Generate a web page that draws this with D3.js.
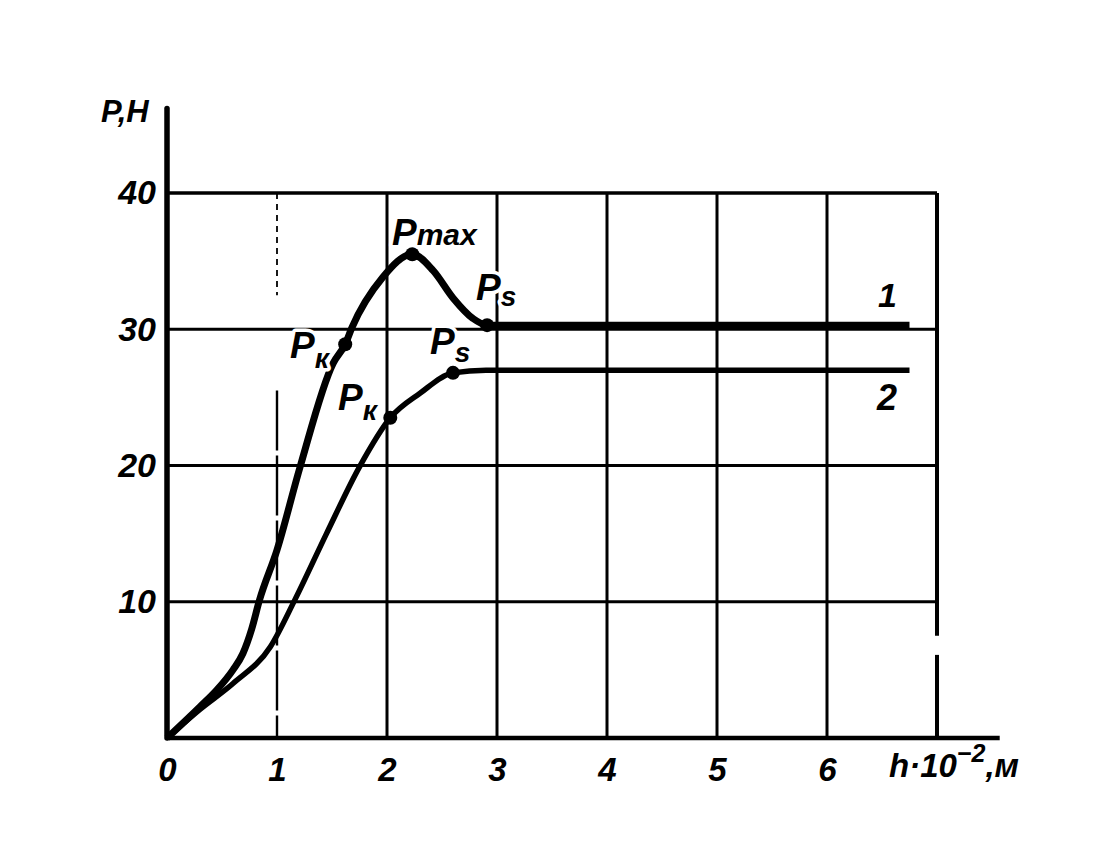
<!DOCTYPE html>
<html>
<head>
<meta charset="utf-8">
<script src="https://cdn.jsdelivr.net/npm/d3@7/dist/d3.min.js"></script>
<style>
  html, body { margin: 0; padding: 0; background: #fff; }
  svg { display: block; }
  text { font-family: "Liberation Sans", "DejaVu Sans", sans-serif; font-style: italic; font-weight: bold; fill: #000; }
</style>
</head>
<body>
<svg id="chart" width="1104" height="855"></svg>
<script>
// ---- data ----
const xTicks = [0, 1, 2, 3, 4, 5, 6];
const yTicks = [10, 20, 30, 40];
const gridX = [1, 2, 3, 4, 5, 6, 7];
const gridY = [10, 20, 30, 40];

// curve 1
const curve1H = [0, 0.3, 0.45, 0.6, 0.69, 0.77, 0.84, 1.0, 1.21, 1.51, 1.62, 1.68, 1.96, 2.23, 2.42, 2.6, 2.78, 2.91, 3.2, 6.75];
const curve1P = [0, 2.3, 3.5, 5.0, 6.2, 8.0, 10.1, 13.8, 19.9, 27.5, 28.9, 30.1, 33.8, 35.5, 34.3, 32.3, 30.8, 30.3, 30.3, 30.3];
// curve 2
const curve2H = [0, 0.3, 0.6, 0.94, 1.16, 1.45, 1.75, 2.03, 2.3, 2.6, 2.9, 6.75];
const curve2P = [0, 2.1, 4.0, 6.7, 10.1, 15.0, 19.9, 23.5, 25.3, 26.8, 27.0, 27.0];

// marked points
const markH = [1.62, 2.23, 2.91, 2.03, 2.6];
const markP = [28.9, 35.5, 30.3, 23.5, 26.8];

// ---- scales ----
const svg = d3.select("#chart");
const x = d3.scaleLinear().domain([0, 7]).range([167, 937]);
const y = d3.scaleLinear().domain([0, 40]).range([738, 193]);
const xAxisEnd = 7.57, yAxisEnd = 46.2;

const g = svg.append("g");

// grid: horizontal
gridY.forEach(v => {
  g.append("line")
    .attr("x1", x(0)).attr("x2", x(7))
    .attr("y1", y(v)).attr("y2", y(v))
    .attr("stroke", "#000").attr("stroke-width", v === 40 ? 3.5 : 3);
});
// grid: vertical
gridX.forEach(v => {
  if (v === 1) {
    g.append("line")
      .attr("x1", x(v)).attr("x2", x(v))
      .attr("y1", y(40)).attr("y2", y(32.5))
      .attr("stroke", "#000").attr("stroke-width", 1.8)
      .attr("stroke-dasharray", "6,5");
    g.append("line")
      .attr("x1", x(v)).attr("x2", x(v))
      .attr("y1", y(25.5)).attr("y2", y(0))
      .attr("stroke", "#000").attr("stroke-width", 2.4)
      .attr("stroke-dasharray", "60,5");
  } else if (v === 7) {
    g.append("line")
      .attr("x1", x(v)).attr("x2", x(v))
      .attr("y1", y(40)).attr("y2", y(7.5))
      .attr("stroke", "#000").attr("stroke-width", 4);
    g.append("line")
      .attr("x1", x(v)).attr("x2", x(v))
      .attr("y1", y(6.1)).attr("y2", y(0))
      .attr("stroke", "#000").attr("stroke-width", 4);
  } else {
    g.append("line")
      .attr("x1", x(v)).attr("x2", x(v))
      .attr("y1", y(40)).attr("y2", y(0))
      .attr("stroke", "#000").attr("stroke-width", 3);
  }
});

// axes
g.append("line")
  .attr("x1", x(0)).attr("x2", x(xAxisEnd))
  .attr("y1", y(0)).attr("y2", y(0))
  .attr("stroke", "#000").attr("stroke-width", 4.5);
g.append("line")
  .attr("x1", x(0)).attr("x2", x(0))
  .attr("y1", y(0)).attr("y2", y(yAxisEnd))
  .attr("stroke", "#000").attr("stroke-width", 5.5)
  .attr("stroke-linecap", "round");

// tick labels via d3 axes
const xAxis = svg.append("g")
  .attr("transform", `translate(0,${y(0)})`)
  .call(d3.axisBottom(x).tickValues(xTicks).tickSize(0).tickPadding(20).tickFormat(d3.format("d")));
xAxis.select(".domain").remove();
xAxis.selectAll("text")
  .attr("font-family", "Liberation Sans, DejaVu Sans, sans-serif")
  .attr("font-style", "italic")
  .attr("font-weight", "bold")
  .attr("font-size", 33)
  .attr("fill", "#000");

const yAxis = svg.append("g")
  .attr("transform", `translate(${x(0)},0)`)
  .call(d3.axisLeft(y).tickValues(yTicks).tickSize(0).tickPadding(11).tickFormat(d3.format("d")));
yAxis.select(".domain").remove();
yAxis.selectAll("text")
  .attr("font-family", "Liberation Sans, DejaVu Sans, sans-serif")
  .attr("font-style", "italic")
  .attr("font-weight", "bold")
  .attr("font-size", 34)
  .attr("fill", "#000");

// curves
const line = d3.line().x(d => x(d[0])).y(d => y(d[1])).curve(d3.curveMonotoneX);
const c1 = curve1H.map((h, i) => [h, curve1P[i]]);
const c2 = curve2H.map((h, i) => [h, curve2P[i]]);

g.append("path").attr("d", line(c2))
  .attr("fill", "none").attr("stroke", "#000").attr("stroke-width", 5.5)
  .attr("stroke-linejoin", "round");
g.append("path").attr("d", line(c1))
  .attr("fill", "none").attr("stroke", "#000").attr("stroke-width", 7)
  .attr("stroke-linejoin", "round");

// markers
markH.forEach((h, i) => {
  g.append("circle").attr("cx", x(h)).attr("cy", y(markP[i])).attr("r", 7).attr("fill", "#000");
});

// annotations
function label(px, py, main, sub, size, subSize, subDy) {
  const t = svg.append("text")
    .attr("x", px).attr("y", py)
    .attr("font-size", size)
    .attr("stroke", "#fff").attr("stroke-width", 7)
    .attr("paint-order", "stroke")
    .attr("stroke-linejoin", "round");
  t.append("tspan").text(main);
  if (sub) t.append("tspan").attr("font-size", subSize).attr("dy", subDy).text(sub);
  return t;
}
label(392, 245, "P", "max", 37, 30, 0);
label(476, 300, "P", "s", 37, 28, 6);
label(430, 354, "P", "s", 37, 28, 8);
label(290, 358, "P", "к", 37, 28, 10);
label(338, 410, "P", "к", 37, 28, 10);

svg.append("text").attr("x", 878).attr("y", 307).attr("font-size", 34).text("1");
svg.append("text").attr("x", 877).attr("y", 410).attr("font-size", 36).text("2");

// axis titles
svg.append("text").attr("x", 101).attr("y", 122).attr("font-size", 31).text("P,Н");
const xt = svg.append("text").attr("x", 889).attr("y", 777).attr("font-size", 33);
xt.append("tspan").text("h·10");
xt.append("tspan").attr("font-size", 25).attr("dy", -15).text("−2");
xt.append("tspan").attr("dy", 15).text(",м");
</script>
</body>
</html>
